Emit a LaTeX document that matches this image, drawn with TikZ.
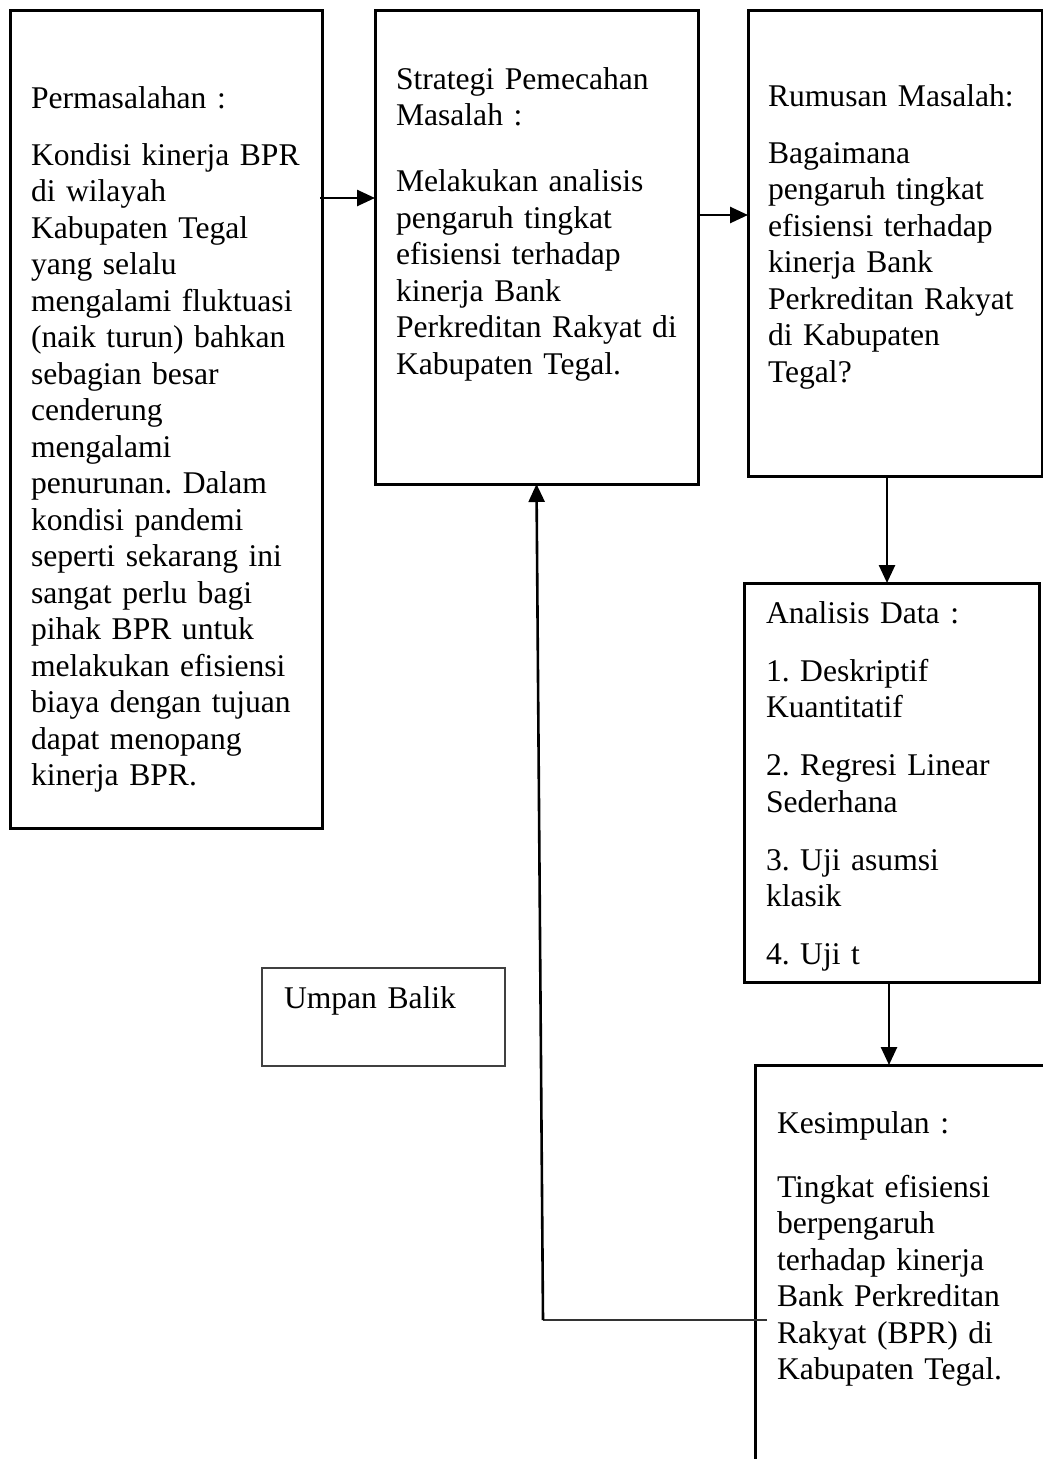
\documentclass[tikz,border=0pt]{standalone}
\usepackage{fontspec}
\setmainfont{Liberation Serif}
\usetikzlibrary{arrows.meta}
\frenchspacing
\begin{document}
\begin{tikzpicture}[x=1pt,y=-1pt,
  boxshape/.style={draw, line width=3pt, rectangle, inner sep=0pt, outer sep=0pt, anchor=north west},
  thinbox/.style={draw=black!75, line width=1.4pt, rectangle, inner sep=0pt, outer sep=0pt, anchor=north west},
  txt/.style={anchor=base west, inner sep=0pt, outer sep=0pt, text width=#1, align=left, font={\frenchspacing\fontsize{31.6}{36.5}\selectfont}},
  conn/.style={line width=2.6pt, -{Triangle[length=18pt,width=16pt]}},
  thinline/.style={line width=1.4pt, draw=black!80},
  ]
\useasboundingbox (0,0) rectangle (1043,1459);

% boxes
\node[boxshape, minimum width=312pt, minimum height=818pt] (perm) at (10,10) {};
\node[boxshape, minimum width=323pt, minimum height=474pt] (strat) at (375,10) {};
\node[boxshape, minimum width=294pt, minimum height=466pt] (rum) at (748,10) {};
\node[boxshape, minimum width=295pt, minimum height=399pt] (ana) at (744,583) {};
\node[thinbox, minimum width=243pt, minimum height=98pt] (umpan) at (262,968) {};
\coordinate (kestop) at (755,1065);
\draw[line width=3pt] (755,1459) -- (kestop) -- (1043,1065);

% texts
\node[txt=300pt] (tperm) at (31,108) {Permasalahan :\\[20.5pt]
Kondisi kinerja BPR\\ di wilayah\\ Kabupaten Tegal\\ yang selalu\\ mengalami fluktuasi\\ (naik turun) bahkan\\ sebagian besar\\ cenderung\\ mengalami\\ penurunan. Dalam\\ kondisi pandemi\\ seperti sekarang ini\\ sangat perlu bagi\\ pihak BPR untuk\\ melakukan efisiensi\\ biaya dengan tujuan\\ dapat menopang\\ kinerja BPR.};

\node[txt=310pt] (tstrat) at (396,89) {Strategi Pemecahan\\ Masalah :\\[29.5pt]
Melakukan analisis\\ pengaruh tingkat\\ efisiensi terhadap\\ kinerja Bank\\ Perkreditan Rakyat di\\ Kabupaten Tegal.};

\node[txt=290pt] (trum) at (768,106) {Rumusan Masalah:\\[20.5pt]
Bagaimana\\ pengaruh tingkat\\ efisiensi terhadap\\ kinerja Bank\\ Perkreditan Rakyat\\ di Kabupaten\\ Tegal?};

\node[txt=290pt] (tana) at (766,623) {Analisis Data :\\[21.5pt]
1. Deskriptif\\ Kuantitatif\\[21.5pt]
2. Regresi Linear\\ Sederhana\\[21.5pt]
3. Uji asumsi\\ klasik\\[21.5pt]
4. Uji t};

\node[txt=280pt] (tkes) at (777,1133) {Kesimpulan :\\[27.5pt]
Tingkat efisiensi\\ berpengaruh\\ terhadap kinerja\\ Bank Perkreditan\\ Rakyat (BPR) di\\ Kabupaten Tegal.};

\node[txt=220pt] (tumpan) at (284,1008) {Umpan Balik};

% connectors
\coordinate (a1) at (320,198);
\draw[conn] (a1) -- (a1 -| strat.west);
\coordinate (a2) at (698,215);
\draw[conn] (a2) -- (a2 -| rum.west);
\coordinate (a3) at (887,476);
\draw[conn] (a3) -- (a3 |- ana.north);
\coordinate (a4) at (889,982);
\draw[conn] (a4) -- (a4 |- kestop);
\coordinate (fb) at (543,1320);
\coordinate (fbend) at (767,1320);
\draw[thinline] (fbend) -- (fb);
\draw[conn] (fb) -- (strat.south);
\end{tikzpicture}
\end{document}
